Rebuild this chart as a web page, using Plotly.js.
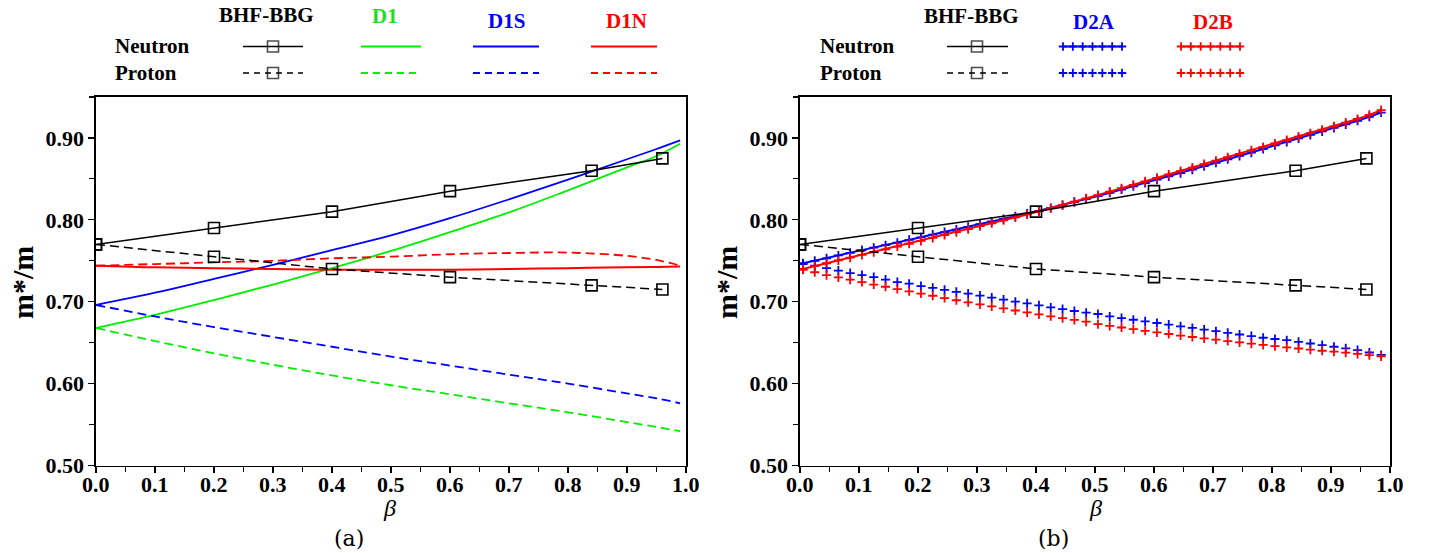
<!DOCTYPE html>
<html>
<head>
<meta charset="utf-8">
<script src="https://cdn.plot.ly/plotly-3.0.1.min.js"></script>
<style>
  html, body { margin: 0; padding: 0; background: #fff; }
  #chart { width: 1431px; height: 553px; }
</style>
</head>
<body>
<div id="chart"></div>
<script>
// ---------------- data ----------------
const BETA_BHF = [0, 0.2, 0.4, 0.6, 0.84, 0.96];
const BHF_NEUTRON = [0.770, 0.790, 0.810, 0.835, 0.860, 0.875];
const BHF_PROTON  = [0.770, 0.755, 0.740, 0.730, 0.720, 0.715];

const BETA_D1 = [0, 0.1, 0.2, 0.3, 0.4, 0.5, 0.6, 0.7, 0.8, 0.9, 0.95, 0.99];
const D1_NEUTRON  = [0.668, 0.684, 0.702, 0.721, 0.741, 0.762, 0.785, 0.809, 0.836, 0.864, 0.878, 0.893];
const D1_PROTON   = [0.668, 0.652, 0.637, 0.623, 0.610, 0.598, 0.587, 0.576, 0.565, 0.553, 0.547, 0.542];
const D1S_NEUTRON = [0.696, 0.711, 0.728, 0.745, 0.763, 0.781, 0.802, 0.825, 0.849, 0.874, 0.8865, 0.897];
const D1S_PROTON  = [0.696, 0.682, 0.669, 0.657, 0.645, 0.633, 0.622, 0.611, 0.600, 0.588, 0.582, 0.576];
const D1N_NEUTRON = [0.744, 0.742, 0.741, 0.740, 0.739, 0.739, 0.739, 0.740, 0.741, 0.742, 0.7425, 0.743];
const D1N_PROTON  = [0.744, 0.746, 0.748, 0.750, 0.753, 0.755, 0.758, 0.7595, 0.760, 0.756, 0.751, 0.744];

const BETA_D2 = [0.005, 0.025, 0.045, 0.065, 0.085, 0.105, 0.125, 0.145, 0.165, 0.185,
                 0.205, 0.225, 0.245, 0.265, 0.285, 0.305, 0.325, 0.345, 0.365, 0.385,
                 0.405, 0.425, 0.445, 0.465, 0.485, 0.505, 0.525, 0.545, 0.565, 0.585,
                 0.605, 0.625, 0.645, 0.665, 0.685, 0.705, 0.725, 0.745, 0.765, 0.785,
                 0.805, 0.825, 0.845, 0.865, 0.885, 0.905, 0.925, 0.945, 0.965, 0.985];
const D2A_NEUTRON = [0.747, 0.750, 0.753, 0.7565, 0.7597, 0.763, 0.766, 0.769, 0.772, 0.7755,
                     0.7787, 0.782, 0.785, 0.788, 0.7915, 0.7948, 0.798, 0.801, 0.8044, 0.8076,
                     0.811, 0.8145, 0.818, 0.8216, 0.8253, 0.829, 0.833, 0.837, 0.841, 0.845,
                     0.849, 0.853, 0.857, 0.8613, 0.8655, 0.8697, 0.874, 0.878, 0.882, 0.8865,
                     0.891, 0.8952, 0.8995, 0.9038, 0.908, 0.9122, 0.9165, 0.921, 0.9258, 0.931];
const D2A_PROTON  = [0.746, 0.744, 0.741, 0.738, 0.735, 0.7325, 0.730, 0.727, 0.724, 0.722,
                     0.719, 0.717, 0.7145, 0.712, 0.710, 0.7075, 0.705, 0.7025, 0.700, 0.698,
                     0.6955, 0.693, 0.691, 0.6887, 0.6866, 0.685, 0.682, 0.680, 0.678, 0.676,
                     0.674, 0.672, 0.670, 0.668, 0.666, 0.664, 0.662, 0.660, 0.658, 0.656,
                     0.6545, 0.653, 0.651, 0.649, 0.647, 0.645, 0.643, 0.641, 0.638, 0.635];
const D2B_NEUTRON = [0.740, 0.7435, 0.747, 0.7504, 0.7538, 0.7572, 0.7606, 0.764, 0.7674, 0.7708,
                     0.7743, 0.778, 0.7815, 0.785, 0.7886, 0.7922, 0.7958, 0.7994, 0.803, 0.8066,
                     0.8103, 0.8142, 0.8182, 0.8222, 0.8262, 0.8302, 0.8344, 0.8386, 0.8428, 0.847,
                     0.8512, 0.8554, 0.8596, 0.8638, 0.868, 0.8722, 0.8764, 0.8806, 0.8848, 0.889,
                     0.8932, 0.8974, 0.9016, 0.9058, 0.910, 0.9142, 0.9187, 0.9232, 0.9282, 0.934];
const D2B_PROTON  = [0.739, 0.736, 0.7325, 0.7297, 0.727, 0.724, 0.721, 0.7183, 0.7155, 0.7127,
                     0.710, 0.7073, 0.7045, 0.7018, 0.6993, 0.6968, 0.6943, 0.6918, 0.6893, 0.687,
                     0.6845, 0.6822, 0.680, 0.6778, 0.6757, 0.6727, 0.6705, 0.6685, 0.6665, 0.6645,
                     0.6626, 0.6606, 0.6587, 0.6569, 0.6552, 0.6536, 0.652, 0.6504, 0.6488, 0.6472,
                     0.6457, 0.6443, 0.6429, 0.6415, 0.6401, 0.639, 0.6378, 0.6362, 0.6348, 0.6333];

const X_TICKS = [0, 0.1, 0.2, 0.3, 0.4, 0.5, 0.6, 0.7, 0.8, 0.9, 1.0];
const X_TICK_LABELS = ['0.0', '0.1', '0.2', '0.3', '0.4', '0.5', '0.6', '0.7', '0.8', '0.9', '1.0'];
const Y_TICKS = [0.5, 0.6, 0.7, 0.8, 0.9];

// ---------------- styling ----------------
const W = 1431, H = 553;
const GREEN = '#00ee00', BLUE = '#0000ff', RED = '#ff0000', BLACK = '#000000';
const DASH = '9px,5px';
const SERIF = 'Liberation Serif';
const px = v => v / W;
const py = v => 1 - v / H;

const traces = [];
function curve(xa, ya, x, y, color, dash, width, shape) {
  traces.push({x: x, y: y, xaxis: xa, yaxis: ya, type: 'scatter', mode: 'lines',
    line: {color: color, width: width || 1.8, dash: dash || 'solid', shape: shape || 'linear'},
    showlegend: false, hoverinfo: 'skip'});
}
function bhf(xa, ya) {
  [[BHF_NEUTRON, 'solid'], [BHF_PROTON, DASH]].forEach(([vals, dash]) => {
    traces.push({x: BETA_BHF, y: vals, xaxis: xa, yaxis: ya, type: 'scatter', mode: 'lines+markers',
      line: {color: BLACK, width: 1.5, dash: dash},
      marker: {symbol: 'square-open', size: 11, color: BLACK, line: {width: 1.6, color: BLACK}},
      showlegend: false, hoverinfo: 'skip'});
  });
}
function plus(xa, ya, y, color, withLine) {
  traces.push({x: BETA_D2, y: y, xaxis: xa, yaxis: ya, type: 'scatter',
    mode: withLine ? 'lines+markers' : 'markers',
    line: {color: color, width: 2},
    marker: {symbol: 'cross-thin-open', size: 6.5, color: color, line: {width: 1.8, color: color}},
    showlegend: false, hoverinfo: 'skip'});
}

// panel (a)
curve('x', 'y', BETA_D1, D1_NEUTRON, GREEN, 'solid', 1.8, 'spline');
curve('x', 'y', BETA_D1, D1_PROTON, GREEN, DASH, 1.8, 'spline');
curve('x', 'y', BETA_D1, D1S_NEUTRON, BLUE, 'solid', 1.8, 'spline');
curve('x', 'y', BETA_D1, D1S_PROTON, BLUE, DASH, 1.8, 'spline');
curve('x', 'y', BETA_D1, D1N_NEUTRON, RED, 'solid', 2, 'spline');
curve('x', 'y', BETA_D1, D1N_PROTON, RED, DASH, 1.8, 'spline');
bhf('x', 'y');

// panel (b)
plus('x2', 'y2', D2A_PROTON, BLUE, false);
plus('x2', 'y2', D2B_PROTON, RED, false);
plus('x2', 'y2', D2A_NEUTRON, BLUE, true);
plus('x2', 'y2', D2B_NEUTRON, RED, true);
bhf('x2', 'y2');

// ---------------- legend samples (overlay axis in pixel units) ----------------
const LEG_ROWS = {neutron: 46.5, proton: 73};
function legLine(x0, x1, yRow, color, dash, markerAt) {
  const xs = markerAt !== undefined ? [x0, markerAt, x1] : [x0, x1];
  const sizes = markerAt !== undefined ? [0, 11, 0] : 0;
  traces.push({x: xs, y: xs.map(() => yRow), xaxis: 'x3', yaxis: 'y3', type: 'scatter',
    mode: markerAt !== undefined ? 'lines+markers' : 'lines',
    line: {color: color, width: color === BLACK ? 1.5 : 1.8, dash: dash},
    marker: {symbol: 'square-open', size: sizes, color: color, line: {width: 1.6, color: color}},
    showlegend: false, hoverinfo: 'skip'});
}
function legPlus(x0, x1, n, yRow, color, withLine) {
  const xs = [];
  for (let i = 0; i < n; i++) xs.push(x0 + (x1 - x0) * i / (n - 1));
  traces.push({x: xs, y: xs.map(() => yRow), xaxis: 'x3', yaxis: 'y3', type: 'scatter',
    mode: withLine ? 'lines+markers' : 'markers',
    line: {color: color, width: 1.8},
    marker: {symbol: 'cross-thin-open', size: 6, color: color, line: {width: 1.8, color: color}},
    showlegend: false, hoverinfo: 'skip'});
}
// left legend
legLine(243, 303, LEG_ROWS.neutron, BLACK, 'solid', 273);
legLine(243, 303, LEG_ROWS.proton, BLACK, '6px,5px', 273);
legLine(361, 421, LEG_ROWS.neutron, GREEN, 'solid');
legLine(361, 421, LEG_ROWS.proton, GREEN, '7px,5px');
legLine(473, 539, LEG_ROWS.neutron, BLUE, 'solid');
legLine(473, 539, LEG_ROWS.proton, BLUE, '7px,5px');
legLine(591, 657, LEG_ROWS.neutron, RED, 'solid');
legLine(591, 657, LEG_ROWS.proton, RED, '7px,5px');
// right legend
legLine(947, 1008, LEG_ROWS.neutron, BLACK, 'solid', 977);
legLine(947, 1008, LEG_ROWS.proton, BLACK, '6px,5px', 977);
legPlus(1063, 1122, 7, LEG_ROWS.neutron, BLUE, true);
legPlus(1063, 1122, 7, LEG_ROWS.proton, BLUE, false);
legPlus(1181, 1240, 7, LEG_ROWS.neutron, RED, true);
legPlus(1181, 1240, 7, LEG_ROWS.proton, RED, false);

// ---------------- axes ----------------
const yDom = [py(465.5), py(97)];
function xAxis(domain, anchor) {
  return {domain: domain, anchor: anchor, range: [0, 1], tickmode: 'array', tickvals: X_TICKS,
    showticklabels: false, ticks: 'outside', ticklen: 6, tickwidth: 1.3, tickcolor: '#000',
    minor: {dtick: 0.05, tick0: 0, ticks: 'outside', ticklen: 5, tickwidth: 1.2, tickcolor: '#000', showgrid: false},
    showline: true, linecolor: '#000', linewidth: 1.6, mirror: true, showgrid: false, zeroline: false,
    fixedrange: true};
}
function yAxis(anchor) {
  return {domain: yDom, anchor: anchor, range: [0.5, 0.95], tickmode: 'array', tickvals: Y_TICKS,
    tickformat: '.2f', ticks: 'outside', ticklen: 6, tickwidth: 1.3, tickcolor: '#000',
    minor: {dtick: 0.05, tick0: 0.5, ticks: 'outside', ticklen: 5, tickwidth: 1.2, tickcolor: '#000', showgrid: false},
    showline: true, linecolor: '#000', linewidth: 1.6, mirror: true, showgrid: false, zeroline: false,
    tickfont: {family: SERIF, size: 22, color: '#000', weight: 'bold'}, fixedrange: true};
}

// ---------------- annotations ----------------
function txt(text, x, y, size, color, opts) {
  return Object.assign({text: text, xref: 'paper', yref: 'paper', x: px(x), y: py(y),
    xanchor: 'center', yanchor: 'middle', showarrow: false,
    font: {family: SERIF, size: size, color: color}}, opts || {});
}
const annotations = [
  // left legend
  txt('<b>BHF-BBG</b>', 266, 15, 21, BLACK),
  txt('<b>D1</b>', 385, 16, 21, '#22dd22'),
  txt('<b>D1S</b>', 506, 21, 21, BLUE),
  txt('<b>D1N</b>', 626, 21, 21, RED),
  txt('<b>Neutron</b>', 113, 46, 21, BLACK, {xanchor: 'left'}),
  txt('<b>Proton</b>', 113, 73, 21, BLACK, {xanchor: 'left'}),
  // right legend
  txt('<b>BHF-BBG</b>', 971, 16, 21, BLACK),
  txt('<b>D2A</b>', 1094, 22, 21, BLUE),
  txt('<b>D2B</b>', 1213, 22, 21, RED),
  txt('<b>Neutron</b>', 818, 46, 21, BLACK, {xanchor: 'left'}),
  txt('<b>Proton</b>', 818, 73, 21, BLACK, {xanchor: 'left'}),
  // axis titles
  txt('<b>m*/m</b>', 22, 283, 30, BLACK, {textangle: -90}),
  txt('<b>m*/m</b>', 726, 283, 30, BLACK, {textangle: -90}),
  txt('<i>β</i>', 390, 508, 24, BLACK),
  txt('<i>β</i>', 1095, 508, 24, BLACK),
  txt('(a)', 349, 538, 24, BLACK, {font: {family: 'DejaVu Serif', size: 22, color: BLACK}}),
  txt('(b)', 1053, 538, 24, BLACK, {font: {family: 'DejaVu Serif', size: 22, color: BLACK}})
];
// x tick labels placed through each panel's x scale
['x', 'x2'].forEach(xr => {
  X_TICKS.forEach((v, i) => {
    annotations.push({text: '<b>' + X_TICK_LABELS[i] + '</b>', xref: xr, yref: 'paper',
      x: v, y: py(484), xanchor: 'center', yanchor: 'middle', showarrow: false,
      font: {family: SERIF, size: 22, color: BLACK}});
  });
});

const layout = {
  width: W, height: H,
  margin: {l: 0, r: 0, t: 0, b: 0, pad: 0},
  paper_bgcolor: '#fff', plot_bgcolor: 'rgba(0,0,0,0)',
  showlegend: false,
  xaxis: xAxis([px(96), px(686)], 'y'),
  yaxis: yAxis('x'),
  xaxis2: xAxis([px(800), px(1390)], 'y2'),
  yaxis2: yAxis('x2'),
  xaxis3: {domain: [0, 1], range: [0, W], anchor: 'y3', visible: false, fixedrange: true},
  yaxis3: {domain: [0, 1], range: [H, 0], anchor: 'x3', visible: false, fixedrange: true},
  annotations: annotations
};

Plotly.newPlot('chart', traces, layout, {staticPlot: true, displayModeBar: false});
</script>
</body>
</html>
